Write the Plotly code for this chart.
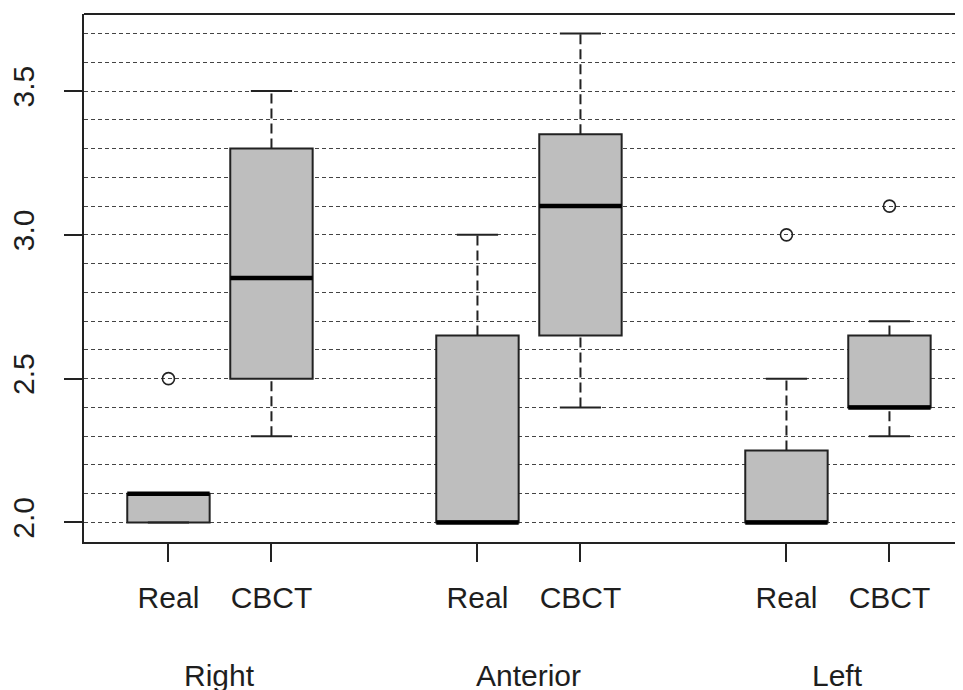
import plotly.graph_objects as go

# ---- data ----
positions = [1, 2, 4, 5, 7, 8]
tick_labels = ["Real", "CBCT", "Real", "CBCT", "Real", "CBCT"]
group_labels = ["Right", "Anterior", "Left"]
group_centers = [1.5, 4.5, 7.5]
q1 = [2.0, 2.5, 2.0, 2.65, 2.0, 2.4]
median = [2.1, 2.85, 2.0, 3.1, 2.0, 2.4]
q3 = [2.1, 3.3, 2.65, 3.35, 2.25, 2.65]
whisk_lo = [2.0, 2.3, 2.0, 2.4, 2.0, 2.3]
whisk_hi = [2.1, 3.5, 3.0, 3.7, 2.5, 2.7]
outlier_x = [1, 7, 8]
outlier_y = [2.5, 3.0, 3.1]
y_ticks = [2.0, 2.5, 3.0, 3.5]
y_ticktext = ["2.0", "2.5", "3.0", "3.5"]

BOXW = 0.8
STAPLE = 0.2
FONT = "Liberation Sans, Arial, sans-serif"
TXT = "#1e1e1e"
FS = 30

fig = go.Figure()

# whiskers (dashed)
wx, wy = [], []
for p, lo, a, b, hi in zip(positions, whisk_lo, q1, q3, whisk_hi):
    if lo < a:
        wx += [p, p, None]; wy += [lo, a, None]
    if hi > b:
        wx += [p, p, None]; wy += [b, hi, None]
fig.add_trace(go.Scatter(x=wx, y=wy, mode="lines",
                         line=dict(color="#222222", width=2, dash="10px,5px"),
                         hoverinfo="skip"))
# staples
sx, sy = [], []
for p, lo, hi in zip(positions, whisk_lo, whisk_hi):
    sx += [p - STAPLE, p + STAPLE, None, p - STAPLE, p + STAPLE, None]
    sy += [lo, lo, None, hi, hi, None]
fig.add_trace(go.Scatter(x=sx, y=sy, mode="lines",
                         line=dict(color="#222222", width=2),
                         hoverinfo="skip"))

# boxes
fig.add_trace(go.Box(x=positions, q1=q1, median=median, q3=q3,
                     lowerfence=q1, upperfence=q3, width=BOXW,
                     fillcolor="#bebebe", line=dict(color="#222222", width=2),
                     boxpoints=False, hoverinfo="skip"))

# thick medians
mx, my = [], []
for p, m in zip(positions, median):
    mx += [p - BOXW / 2, p + BOXW / 2, None]
    my += [m, m, None]
fig.add_trace(go.Scatter(x=mx, y=my, mode="lines",
                         line=dict(color="black", width=4.5),
                         hoverinfo="skip"))

# outliers
fig.add_trace(go.Scatter(x=outlier_x, y=outlier_y, mode="markers",
                         marker=dict(symbol="circle-open", size=12,
                                     color="#222222", line=dict(width=1.6)),
                         hoverinfo="skip"))

for xc, lab in zip(group_centers, group_labels):
    fig.add_annotation(x=xc, y=0, xref="x", yref="paper", text=lab,
                       showarrow=False, yanchor="middle", yshift=-133,
                       font=dict(family=FONT, size=FS, color=TXT))

fig.add_shape(type="line", xref="paper", yref="paper", x0=0, x1=1, y0=1, y1=1,
              line=dict(color="#222222", width=2))

fig.update_layout(
    width=955, height=682,
    margin=dict(l=76, r=0, t=6, b=148, autoexpand=False),
    paper_bgcolor="white", plot_bgcolor="white",
    showlegend=False,
    font=dict(family=FONT, size=FS, color=TXT),
    xaxis=dict(range=[0.18, 8.714], tickmode="array", tickvals=positions,
               ticktext=tick_labels, ticks="outside", ticklen=18, tickwidth=2,
               tickcolor="#222222", showline=True, linecolor="#222222",
               linewidth=2, showgrid=False, zeroline=False, automargin=False,
               ticklabelstandoff=10,
               tickfont=dict(family=FONT, size=FS, color=TXT)),
    yaxis=dict(range=[1.932, 3.768], tickmode="array", tickvals=y_ticks,
               ticktext=y_ticktext, tickangle=-90, ticks="outside", ticklen=18,
               tickwidth=2, tickcolor="#222222", showline=True,
               linecolor="#222222", linewidth=2, zeroline=False,
               automargin=False, ticklabelstandoff=18,
               showgrid=True, gridcolor="#444444", gridwidth=1.2,
               griddash="4px,3px",
               minor=dict(tick0=2.0, dtick=0.1, showgrid=True,
                          gridcolor="#444444", gridwidth=1.2,
                          griddash="4px,3px", ticks=""),
               tickfont=dict(family=FONT, size=FS, color=TXT)),
)

fig.write_html("out.html", config={"displayModeBar": False})
